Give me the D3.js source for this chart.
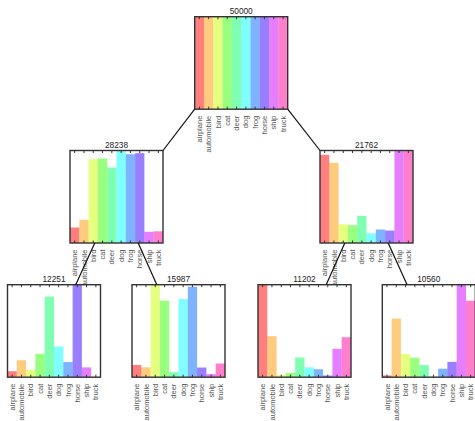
<!DOCTYPE html>
<html>
<head>
<meta charset="utf-8">
<script src="https://cdn.jsdelivr.net/npm/d3@7"></script>
<style>
  body { margin: 0; background: #fff; }
  svg { display: block; font-family: "Liberation Sans", Arial, sans-serif; }
</style>
</head>
<body>
<div id="chart"></div>
<script>
// class names, shared by every node
const classes = ['airplane', 'automobile', 'bird', 'cat', 'deer', 'dog', 'frog', 'horse', 'ship', 'truck'];

// per-node class counts
const rootCounts = [5000, 5000, 5000, 5000, 5000, 5000, 5000, 5000, 5000, 5000];
const leftCounts = [760, 1140, 4100, 4140, 3694, 4530, 4350, 4400, 550, 574];
const rightCounts = [4240, 3860, 900, 860, 1306, 470, 650, 600, 4450, 4426];
const leftLeftCounts = [260, 735, 320, 1015, 3489, 1333, 655, 4005, 425, 14];
const leftRightCounts = [500, 405, 3780, 3125, 205, 3197, 3695, 395, 125, 560];
const rightLeftCounts = [4180, 1854, 110, 194, 891, 445, 360, 76, 1284, 1808];
const rightRightCounts = [60, 2006, 790, 666, 415, 25, 290, 524, 3166, 2618];

const W = 475, H = 421;
const boxW = 93, boxH = 92.5;

// node layout: top-left corner of each histogram box
const nodes = [
  { id: 'root', counts: rootCounts, x: 194.7, y: 16.7 },
  { id: 'L', counts: leftCounts, x: 70, y: 150.5, parent: 'root', side: -1, level: 0 },
  { id: 'R', counts: rightCounts, x: 320, y: 150.5, parent: 'root', side: 1, level: 0 },
  { id: 'LL', counts: leftLeftCounts, x: 7.5, y: 284.7, parent: 'L', side: -1, level: 1 },
  { id: 'LR', counts: leftRightCounts, x: 132, y: 284.7, parent: 'L', side: 1, level: 1 },
  { id: 'RL', counts: rightLeftCounts, x: 258, y: 284.7, parent: 'R', side: -1, level: 1 },
  { id: 'RR', counts: rightRightCounts, x: 382.3, y: 284.7, parent: 'R', side: 1, level: 1 }
];
const linkSpread = [46.5, 21.7];

const color = i => d3.hsl(i * 36, 1, 0.5).formatHex();

const svg = d3.select('#chart').append('svg')
  .attr('width', W)
  .attr('height', H);

svg.append('rect').attr('width', W).attr('height', H).attr('fill', '#fff');

const x = d3.scaleBand().domain(classes).range([0, boxW]).padding(0);

nodes.forEach(node => {
  const data = classes.map((c, i) => ({ name: c, value: node.counts[i], i }));
  const y = d3.scaleLinear()
    .domain([0, d3.max(data, d => d.value)])
    .range([boxH, 0]);

  const g = svg.append('g')
    .attr('transform', `translate(${node.x},${node.y})`);

  g.append('rect')
    .attr('width', boxW)
    .attr('height', boxH)
    .attr('fill', '#fff');

  g.selectAll('.bar')
    .data(data)
    .join('rect')
    .attr('class', 'bar')
    .attr('x', d => x(d.name))
    .attr('y', d => y(d.value))
    .attr('width', x.bandwidth())
    .attr('height', d => boxH - y(d.value))
    .attr('fill', d => color(d.i))
    .attr('fill-opacity', 0.5);

  // ticks pointing inwards at top and bottom
  const bottom = g.append('g')
    .attr('transform', `translate(0,${boxH})`)
    .call(d3.axisBottom(x).tickSizeInner(-2.5).tickSizeOuter(0).tickPadding(0));
  bottom.select('.domain').remove();
  bottom.selectAll('line').attr('stroke', '#333').attr('stroke-width', 1);
  bottom.selectAll('text')
    .attr('transform', 'rotate(-90)')
    .attr('x', -6.5)
    .attr('y', 0)
    .attr('dy', '0.35em')
    .style('text-anchor', 'end')
    .style('font-size', '7.5px')
    .style('font-family', '"Liberation Sans", Arial, sans-serif')
    .attr('fill', '#555');

  const top = g.append('g')
    .call(d3.axisTop(x).tickSizeInner(-2.5).tickSizeOuter(0).tickFormat(''));
  top.select('.domain').remove();
  top.selectAll('line').attr('stroke', '#333').attr('stroke-width', 1);

  g.append('rect')
    .attr('width', boxW)
    .attr('height', boxH)
    .attr('fill', 'none')
    .attr('stroke', '#333')
    .attr('stroke-width', 1.4);

  g.append('text')
    .attr('x', boxW / 2)
    .attr('y', -3)
    .attr('text-anchor', 'middle')
    .style('font-size', '8.3px')
    .attr('fill', '#222')
    .text(d3.sum(node.counts));
});

// tree edges
const byId = Object.fromEntries(nodes.map(n => [n.id, n]));
nodes.filter(n => n.parent).forEach(n => {
  const p = byId[n.parent];
  const off = linkSpread[n.level];
  svg.append('line')
    .attr('x1', p.x + boxW / 2 + n.side * off)
    .attr('y1', p.y + boxH)
    .attr('x2', n.x + boxW / 2 - n.side * off)
    .attr('y2', n.y)
    .attr('stroke', '#111')
    .attr('stroke-width', 1.2);
});
</script>
</body>
</html>
